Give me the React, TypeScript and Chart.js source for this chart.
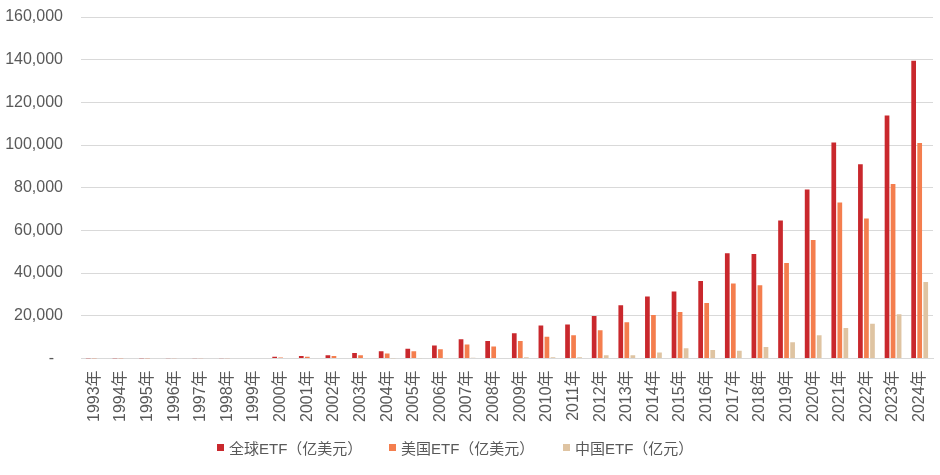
import React, { useEffect, useRef } from "react";
import { Chart, registerables } from "chart.js";

Chart.register(...registerables);

const years = [
  "1993年", "1994年", "1995年", "1996年", "1997年", "1998年", "1999年", "2000年",
  "2001年", "2002年", "2003年", "2004年", "2005年", "2006年", "2007年", "2008年",
  "2009年", "2010年", "2011年", "2012年", "2013年", "2014年", "2015年", "2016年",
  "2017年", "2018年", "2019年", "2020年", "2021年", "2022年", "2023年", "2024年",
];

const globalEtf = [
  8, 8, 10, 20, 70, 100, 200, 750,
  1100, 1500, 2500, 3300, 4500, 6100, 9000, 8200,
  11800, 15400, 15900, 19900, 24900, 29000, 31300, 36300,
  49300, 48900, 64600, 79200, 101200, 91000, 113800, 139500,
];

const usEtf = [
  8, 6, 10, 20, 70, 100, 150, 400,
  800, 1100, 1500, 2300, 3300, 4300, 6500, 5600,
  8200, 10100, 10900, 13200, 17000, 20300, 21700, 26000,
  35100, 34300, 44700, 55500, 73100, 65600, 81700, 100900,
];

const chinaEtf = [
  0, 0, 0, 0, 0, 0, 0, 0,
  0, 0, 0, 10, 50, 90, 300, 200,
  500, 500, 600, 1500, 1500, 2800, 4800, 3900,
  3600, 5300, 7600, 10900, 14200, 16200, 20700, 35800,
];

const seriesNames = ["全球ETF（亿美元）", "美国ETF（亿美元）", "中国ETF（亿元）"];
const seriesColors = ["#C9282D", "#F47E4E", "#DFC4A2"];
const legendLeft = [217, 389, 563];

const FONT = '"Liberation Sans", Arial, "Noto Sans CJK SC", sans-serif';
const TEXT = "#595959";

export default function App() {
  const ref = useRef<HTMLCanvasElement | null>(null);

  useEffect(() => {
    if (!ref.current) return;
    const values = [globalEtf, usEtf, chinaEtf];
    const chart = new Chart(ref.current, {
      type: "bar",
      data: {
        labels: years,
        datasets: values.map((v, i) => ({
          label: seriesNames[i],
          data: v,
          backgroundColor: seriesColors[i],
          borderWidth: 0,
          barPercentage: 0.78,
          categoryPercentage: 0.68,
        })),
      },
      options: {
        animation: false,
        responsive: true,
        maintainAspectRatio: false,
        layout: { padding: { top: 17, right: 7, left: 0, bottom: 49 } },
        plugins: {
          tooltip: { enabled: false },
          legend: { display: false },
        },
        scales: {
          x: {
            afterFit: (scale: any) => {
              scale.paddingRight = 0;
              scale.paddingTop = 0;
            },
            grid: { display: false },
            border: { display: true, color: "#d9d9d9" },
            ticks: {
              color: TEXT,
              font: { family: FONT, size: 16 },
              minRotation: 90,
              maxRotation: 90,
              autoSkip: false,
              padding: 4,
            },
          },
          y: {
            min: 0,
            max: 160000,
            afterFit: (scale: any) => {
              scale.width = 81;
              scale.paddingTop = 0;
              scale.paddingBottom = 0;
            },
            grid: { color: "#d9d9d9", drawTicks: false },
            border: { display: false },
            ticks: {
              stepSize: 20000,
              color: TEXT,
              padding: 18,
              font: { family: FONT, size: 16 },
              callback: (v: any) =>
                Number(v) === 0 ? "-  " : Number(v).toLocaleString("en-US"),
            },
          },
        },
      },
    });
    return () => chart.destroy();
  }, []);

  return (
    <div style={{ position: "fixed", left: 0, top: 0, width: 940, height: 475, background: "#fff" }}>
      <canvas ref={ref} />
      {seriesNames.map((name, i) => (
        <div
          key={name}
          style={{
            position: "absolute",
            left: legendLeft[i],
            top: 437,
            height: 20,
            display: "flex",
            alignItems: "center",
            fontFamily: FONT,
            fontSize: 15,
            color: TEXT,
            whiteSpace: "nowrap",
          }}
        >
          <span
            style={{
              display: "inline-block",
              width: 7,
              height: 7,
              background: seriesColors[i],
              marginRight: 5,
            }}
          />
          <span>{name}</span>
        </div>
      ))}
    </div>
  );
}
